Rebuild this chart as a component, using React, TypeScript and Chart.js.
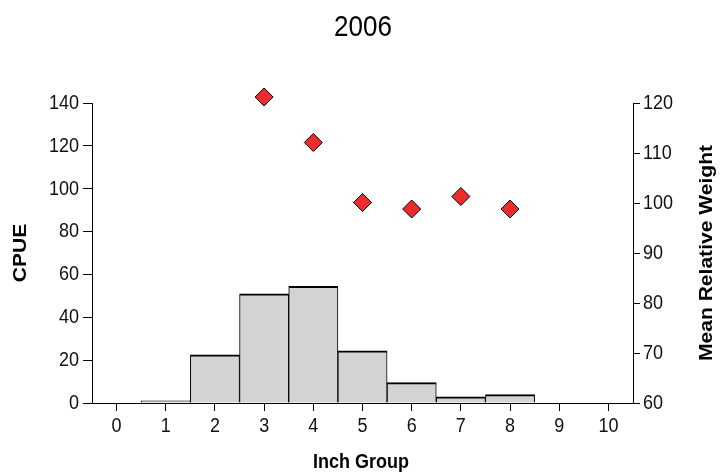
import React, { useEffect, useRef } from "react";
import { Chart, registerables } from "chart.js";

Chart.register(...registerables);

const TITLE = "2006";
const X_TITLE = "Inch Group";
const Y_TITLE = "CPUE";
const Y2_TITLE = "Mean Relative Weight";

const INCH_GROUPS = [0, 1, 2, 3, 4, 5, 6, 7, 8, 9, 10];
const CPUE = [0, 1, 22.5, 51.0, 54.4, 24.4, 9.5, 2.9, 3.9, 0, 0];
const MEAN_WR: (number | null)[] = [null, null, null, 121.2, 112.1, 100.1, 98.8, 101.3, 98.8, null, null];

const CPUE_TICKS = [0, 20, 40, 60, 80, 100, 120, 140];
const WR_TICKS = [60, 70, 80, 90, 100, 110, 120];

const FONT = 'Arial, "Liberation Sans", sans-serif';
const STRETCH = 1.17;

function drawText(
  ctx: CanvasRenderingContext2D,
  text: string,
  x: number,
  y: number,
  font: string,
  align: CanvasTextAlign,
  baseline: CanvasTextBaseline,
  rotate: boolean
) {
  ctx.save();
  ctx.font = font;
  ctx.textAlign = align;
  ctx.textBaseline = baseline;
  ctx.translate(x, y);
  if (rotate) {
    ctx.rotate(-Math.PI / 2);
    ctx.scale(STRETCH, 1);
  } else {
    ctx.scale(1, STRETCH);
  }
  ctx.fillText(text, 0, 0);
  ctx.restore();
}

const textPlugin = {
  id: "textPlugin",
  afterDraw(chart: any) {
    const { ctx, chartArea, scales } = chart;
    const cy = (chartArea.top + chartArea.bottom) / 2;
    ctx.save();
    ctx.fillStyle = "#000";
    drawText(ctx, TITLE, 363, 36, `26px ${FONT}`, "center", "alphabetic", false);
    drawText(ctx, X_TITLE, 361, 462, `bold 18px ${FONT}`, "center", "middle", false);
    drawText(ctx, Y_TITLE, 21, cy, `bold 18px ${FONT}`, "center", "middle", true);
    drawText(ctx, Y2_TITLE, 707, cy, `bold 18px ${FONT}`, "center", "middle", true);

    ctx.fillStyle = "#111";
    const tickFont = `18px ${FONT}`;
    const xs = scales.x;
    for (const t of xs.ticks) {
      const px = xs.getPixelForValue(t.value);
      drawText(ctx, String(t.value), px, 426, tickFont, "center", "middle", false);
    }
    const ys = scales.y;
    for (const t of ys.ticks) {
      const py = ys.getPixelForValue(t.value);
      drawText(ctx, String(t.value), 79, py, tickFont, "right", "middle", false);
    }
    const y2 = scales.y2;
    for (const t of y2.ticks) {
      const py = y2.getPixelForValue(t.value);
      drawText(ctx, String(t.value), 643, py, tickFont, "left", "middle", false);
    }
    ctx.restore();
  },
};

export default function App() {
  const ref = useRef<HTMLCanvasElement | null>(null);
  useEffect(() => {
    if (!ref.current) return;
    const hidden = "rgba(0,0,0,0)";
    const chart = new Chart(ref.current, {
      data: {
        datasets: [
          {
            type: "scatter",
            label: "Mean Relative Weight",
            data: INCH_GROUPS.map((x, i) => ({ x, y: MEAN_WR[i] })).filter((d) => d.y !== null) as any,
            xAxisID: "x",
            yAxisID: "y2",
            pointStyle: "rectRot",
            pointRadius: 9,
            pointHoverRadius: 9,
            backgroundColor: "#ec2d2d",
            borderColor: "#000",
            borderWidth: 1,
            order: 0,
            clip: false as any,
          },
          {
            type: "bar",
            label: "CPUE",
            data: INCH_GROUPS.map((x, i) => ({ x, y: CPUE[i] })) as any,
            xAxisID: "x",
            yAxisID: "y",
            backgroundColor: "#d3d3d3",
            borderColor: "#000",
            borderWidth: { top: 2, left: 1, right: 1, bottom: 0 },
            borderSkipped: "start",
            categoryPercentage: 1,
            barPercentage: 1,
            order: 1,
          },
        ],
      },
      options: {
        responsive: false,
        animation: false,
        devicePixelRatio: 1,
        layout: { padding: { top: 103, left: 0, right: 0, bottom: 0 } },
        plugins: { legend: { display: false }, title: { display: false }, tooltip: { enabled: false } },
        scales: {
          x: {
            type: "linear",
            position: "bottom",
            offset: false,
            min: -0.5,
            max: 10.5,
            afterBuildTicks: (scale: any) => {
              scale.ticks = INCH_GROUPS.map((v) => ({ value: v }));
            },
            afterFit: (scale: any) => {
              scale.height = 73;
            },
            grid: { display: true, offset: false, drawOnChartArea: false, drawTicks: true, tickLength: 8, tickColor: "#000", tickWidth: 1 },
            border: { display: true, color: "#000", width: 1 },
            ticks: { color: hidden, font: { family: FONT, size: 18 }, padding: 2, maxRotation: 0, autoSkip: false },
          },
          y: {
            type: "linear",
            position: "left",
            min: 0,
            max: 140,
            afterBuildTicks: (scale: any) => {
              scale.ticks = CPUE_TICKS.map((v) => ({ value: v }));
            },
            afterFit: (scale: any) => {
              scale.width = 92;
            },
            grid: { display: true, drawOnChartArea: false, drawTicks: true, tickLength: 9, tickColor: "#000", tickWidth: 1 },
            border: { display: true, color: "#000", width: 1 },
            ticks: { color: hidden, font: { family: FONT, size: 18 }, padding: 4, autoSkip: false },
          },
          y2: {
            type: "linear",
            position: "right",
            min: 60,
            max: 120,
            afterBuildTicks: (scale: any) => {
              scale.ticks = WR_TICKS.map((v) => ({ value: v }));
            },
            afterFit: (scale: any) => {
              scale.width = 89;
            },
            grid: { display: true, drawOnChartArea: false, drawTicks: true, tickLength: 7, tickColor: "#000", tickWidth: 1 },
            border: { display: true, color: "#000", width: 1 },
            ticks: { color: hidden, font: { family: FONT, size: 18 }, padding: 3, autoSkip: false },
          },
        },
      },
      plugins: [textPlugin],
    } as any);
    return () => chart.destroy();
  }, []);
  return (
    <div style={{ position: "absolute", left: 0, top: 0, width: 722, height: 476, background: "#fff" }}>
      <canvas ref={ref} width={722} height={476} style={{ display: "block" }} />
    </div>
  );
}
